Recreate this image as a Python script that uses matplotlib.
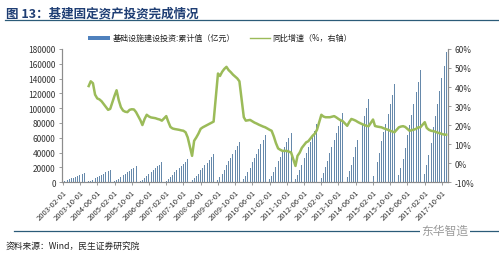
import matplotlib
matplotlib.use("Agg")
import matplotlib.pyplot as plt
from matplotlib.lines import Line2D
from matplotlib.patches import Rectangle
import pandas as pd
import numpy as np

plt.rcParams['font.family'] = ['Noto Sans CJK SC', 'DejaVu Sans']

years = list(range(2003, 2018))
months = list(range(2, 13))  # Feb..Dec (Jan combined with Feb)

# cumulative infrastructure investment (100 million yuan), Feb..Dec per year
inv_2003 = [720, 1560, 2520, 3600, 5040, 6120, 7200, 8400, 9600, 10680, 12000]
inv_2004 = [980, 2130, 3440, 4920, 6890, 8360, 9840, 11480, 13120, 14600, 16400]
inv_2005 = [1310, 2830, 4580, 6540, 9160, 11120, 13080, 15260, 17440, 19400, 21800]
inv_2006 = [1600, 3460, 5590, 7980, 11170, 13570, 15960, 18620, 21280, 23670, 26600]
inv_2007 = [1860, 4030, 6510, 9300, 13020, 15810, 18600, 21700, 24800, 27590, 31000]
inv_2008 = [2270, 4910, 7940, 11340, 15880, 19280, 22680, 26460, 30240, 33640, 37800]
inv_2009 = [3280, 7100, 11470, 16380, 22930, 27850, 32760, 38220, 43680, 48590, 54600]
inv_2010 = [3840, 8320, 13440, 19200, 26880, 32640, 38400, 44800, 51200, 56960, 64000]
inv_2011 = [4020, 8710, 14070, 20100, 28140, 34170, 40200, 46900, 53600, 59630, 67000]
inv_2012 = [4680, 10140, 16380, 23400, 32760, 39780, 46800, 54600, 62400, 69420, 78000]
inv_2013 = [5640, 12220, 19740, 28200, 39480, 47940, 56400, 65800, 75200, 83660, 94000]
inv_2014 = [6720, 14560, 23520, 33600, 47040, 57120, 67200, 78400, 89600, 99680, 112000]
inv_2015 = [7920, 17160, 27720, 39600, 55440, 67320, 79200, 92400, 105600, 117480, 132000]
inv_2016 = [9090, 19700, 31820, 45450, 63630, 77270, 90900, 106050, 121200, 134840, 151500]
inv_2017 = [10560, 22880, 36960, 52800, 73920, 89760, 105600, 123200, 140800, 156640, 176000]

# year-on-year growth (%), Feb..Dec per year, 2004..2017
yoy_2004 = [40.5, 43.0, 42.0, 36.0, 34.0, 33.5, 32.5, 31.0, 29.5, 28.0, 28.5]
yoy_2005 = [35.5, 38.3, 33.0, 29.4, 27.6, 27.0, 26.8, 28.0, 28.3, 28.2, 26.8]
yoy_2006 = [22.5, 20.0, 23.2, 25.4, 24.5, 24.0, 23.8, 23.6, 23.2, 22.9, 22.3]
yoy_2007 = [24.7, 21.8, 19.0, 18.2, 17.9, 17.7, 17.5, 17.2, 17.0, 16.2, 13.5]
yoy_2008 = [3.8, 11.7, 13.5, 15.5, 18.0, 18.8, 19.4, 20.0, 20.6, 21.2, 21.8]
yoy_2009 = [47.1, 45.8, 48.0, 49.5, 50.6, 48.9, 47.8, 46.5, 45.5, 44.5, 43.0]
yoy_2010 = [24.1, 22.3, 22.5, 22.7, 22.0, 21.3, 20.8, 20.2, 19.7, 19.2, 18.8]
yoy_2011 = [17.5, 17.0, 14.0, 10.5, 7.7, 7.0, 6.4, 6.4, 6.4, 6.0, 5.6]
yoy_2012 = [-1.5, 3.8, 5.5, 8.0, 9.5, 10.9, 11.5, 13.0, 14.4, 15.5, 17.5]
yoy_2013 = [25.4, 24.5, 24.1, 24.1, 24.1, 24.4, 24.7, 24.0, 23.2, 22.5, 22.0]
yoy_2014 = [19.6, 21.5, 23.2, 22.8, 22.3, 21.6, 21.0, 20.5, 20.0, 19.6, 19.4]
yoy_2015 = [22.9, 19.5, 19.2, 19.0, 18.8, 18.3, 17.9, 17.5, 17.0, 16.6, 16.2]
yoy_2016 = [18.8, 19.2, 19.4, 19.0, 18.0, 17.0, 17.3, 17.6, 18.0, 18.8, 18.8]
yoy_2017 = [21.5, 18.5, 17.5, 17.0, 16.8, 16.5, 16.0, 15.7, 15.3, 15.0, 14.9]

inv_series = [inv_2003, inv_2004, inv_2005, inv_2006, inv_2007, inv_2008, inv_2009,
              inv_2010, inv_2011, inv_2012, inv_2013, inv_2014, inv_2015, inv_2016, inv_2017]
yoy_series = [yoy_2004, yoy_2005, yoy_2006, yoy_2007, yoy_2008, yoy_2009, yoy_2010,
              yoy_2011, yoy_2012, yoy_2013, yoy_2014, yoy_2015, yoy_2016, yoy_2017]

bar_dates, bar_vals = [], []
for y, vals in zip(years, inv_series):
    for m, v in zip(months, vals):
        bar_dates.append(pd.Timestamp(y, m, 1))
        bar_vals.append(v)

line_dates, line_vals = [], []
for y, vals in zip(years[1:], yoy_series):
    for m, v in zip(months, vals):
        line_dates.append(pd.Timestamp(y, m, 1))
        line_vals.append(v)

title_text = "图 13：基建固定资产投资完成情况"
legend_bar = "基础设施建设投资:累计值（亿元）"
legend_line = "同比增速（%，右轴）"
source_text = "资料来源：Wind，民生证券研究院"
watermark = "东华智造"

fig = plt.figure(figsize=(4.99, 2.55), dpi=100)
ax = fig.add_axes([0.124, 0.282, 0.774, 0.522])
ax2 = ax.twinx()

bar_color = '#6689ab'
line_color = '#9bbb59'
tick_color = '#333333'
axis_color = '#8c8c8c'

ax.bar(bar_dates, bar_vals, width=14, color=bar_color, edgecolor='none', zorder=2)
ax2.plot(line_dates, line_vals, color=line_color, lw=1.8, zorder=3)

ax.set_ylim(0, 180000)
ax.set_yticks(np.arange(0, 180001, 20000))
ax2.set_ylim(-10, 60)
ax2.set_yticks(np.arange(-10, 61, 10))
ax2.set_yticklabels([f"{v}%" for v in range(-10, 61, 10)])

ax.set_xlim(pd.Timestamp(2003, 1, 18), pd.Timestamp(2017, 12, 28))
xt = pd.date_range('2003-02-01', '2017-10-01', freq='8MS')
ax.set_xticks(xt)
ax.set_xticklabels([d.strftime('%Y-%m-%d') for d in xt], rotation=45, ha='right',
                   rotation_mode='anchor', fontsize=5.5, color=tick_color)

for a in (ax, ax2):
    for s in a.spines.values():
        s.set_color(axis_color)
        s.set_linewidth(0.8)
    a.spines['top'].set_visible(False)
ax.tick_params(axis='y', labelsize=6, colors=tick_color, length=2.5, width=0.6, pad=2, color=axis_color)
ax.tick_params(axis='x', length=2.5, width=0.6, pad=2, color=axis_color)
ax2.tick_params(axis='y', labelsize=6, colors=tick_color, length=2.5, width=0.6, pad=2, color=axis_color)
ax.set_zorder(ax2.get_zorder() - 1)
ax.patch.set_visible(True)
ax2.patch.set_visible(False)

# title and rules
fig.text(0.012, 0.97, title_text, fontsize=9, fontweight='bold', color='#1f3e74',
         ha='left', va='top')
fig.add_artist(Line2D([0.01, 1.0], [0.918, 0.918], color='#2b5b78', lw=0.9))
fig.add_artist(Line2D([0.028, 1.0], [0.092, 0.092], color='#2b5b78', lw=0.9))

# legend
fig.add_artist(Rectangle((88 / 499, 1 - 40.5 / 255), 22 / 499, 4 / 255, color='#4f81bd', lw=0))
fig.text(113 / 499, 1 - 38.5 / 255, legend_bar, fontsize=5.8, color='#222222', ha='left', va='center')
fig.add_artist(Line2D([250 / 499, 270 / 499], [1 - 38.5 / 255, 1 - 38.5 / 255], color=line_color, lw=1.0))
fig.text(272 / 499, 1 - 38.5 / 255, legend_line, fontsize=5.8, color='#222222', ha='left', va='center')

# source and watermark
fig.text(0.012, 0.035, source_text, fontsize=6.3, color='#222222', ha='left', va='center')
fig.text(0.845, 0.092, watermark, fontsize=8.5, color='#9a9a9a', ha='left', va='center',
         bbox=dict(facecolor='white', edgecolor='none', pad=1))

fig.savefig('out.png', dpi=100)
